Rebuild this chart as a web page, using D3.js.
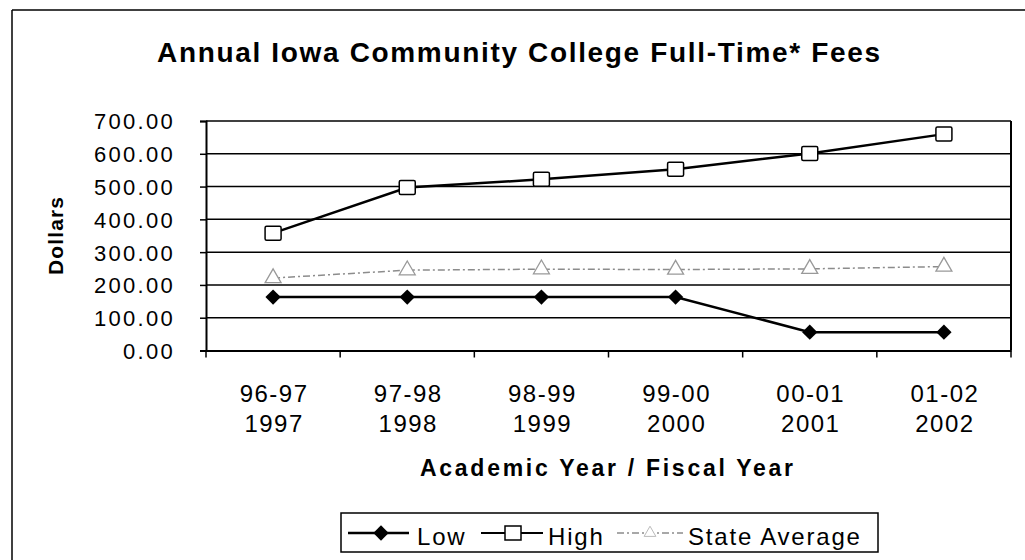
<!DOCTYPE html>
<html>
<head>
<meta charset="utf-8">
<script src="https://cdn.jsdelivr.net/npm/d3@7"></script>
<style>
  html, body { margin: 0; padding: 0; background: #fff; }
  svg { display: block; font-family: "Liberation Sans", Arial, sans-serif; }
</style>
</head>
<body>
<svg id="chart" width="1025" height="560"></svg>
<script>
// ---- data ----
const academicYears = ["96-97", "97-98", "98-99", "99-00", "00-01", "01-02"];
const fiscalYears   = ["1997", "1998", "1999", "2000", "2001", "2002"];
const lowFees   = [163, 163, 163, 163, 56, 56];
const highFees  = [358, 497, 522, 553, 601, 660];
const stateAvg  = [221, 245, 248, 247, 249, 256];
const yTicks    = [0, 100, 200, 300, 400, 500, 600, 700];
const seriesNames = ["Low", "High", "State Average"];

// ---- layout ----
const svg = d3.select("#chart");
const pLeft = 206, pRight = 1011, pTop = 121, pBottom = 350.5;

const x = d3.scaleBand().domain(academicYears).range([pLeft, pRight]);
const y = d3.scaleLinear().domain([0, 700]).range([pBottom, pTop]);
const cx = (d, i) => x(academicYears[i]) + x.bandwidth() / 2;

// outer frame (partial, as in scan)
svg.append("line").attr("x1", 12).attr("x2", 1025).attr("y1", 10).attr("y2", 10)
  .attr("stroke", "#000").attr("stroke-width", 1.5);
svg.append("line").attr("x1", 12).attr("x2", 12).attr("y1", 10).attr("y2", 560)
  .attr("stroke", "#000").attr("stroke-width", 1.5);

// title
svg.append("text").attr("x", 157).attr("y", 62)
  .attr("font-size", 28).attr("font-weight", "bold")
  .attr("textLength", 723).attr("lengthAdjust", "spacing")
  .text("Annual Iowa Community College Full-Time* Fees");

// gridlines
svg.append("g").selectAll("line").data(yTicks.filter(d => d > 0)).join("line")
  .attr("x1", pLeft).attr("x2", pRight)
  .attr("y1", d => y(d)).attr("y2", d => y(d))
  .attr("stroke", "#000").attr("stroke-width", 1.5);

// right border
svg.append("line").attr("x1", pRight).attr("x2", pRight).attr("y1", pTop).attr("y2", pBottom)
  .attr("stroke", "#000").attr("stroke-width", 2);

// y axis
const yAxis = svg.append("g").attr("transform", `translate(${pLeft},0)`)
  .call(d3.axisLeft(y).tickValues(yTicks).tickFormat(d3.format(".2f")).tickSize(6).tickPadding(25));
yAxis.select(".domain").attr("stroke-width", 2);
yAxis.selectAll(".tick line").attr("stroke-width", 1.5);
yAxis.selectAll("text").attr("font-size", 22).attr("fill", "#000")
  .attr("font-family", "Liberation Sans, Arial, sans-serif")
  .style("letter-spacing", "2.3px").attr("dy", "0.36em");

// x axis
const xAxis = svg.append("g").attr("transform", `translate(0,${pBottom})`)
  .call(d3.axisBottom(x).tickValues([]).tickSizeOuter(0));
xAxis.select(".domain").attr("stroke-width", 2);
svg.append("g").selectAll("line").data(d3.range(academicYears.length + 1)).join("line")
  .attr("x1", i => pLeft + i * x.step()).attr("x2", i => pLeft + i * x.step())
  .attr("y1", pBottom).attr("y2", pBottom + 7)
  .attr("stroke", "#000").attr("stroke-width", 1.5);

const xl = svg.append("g").attr("font-size", 24).attr("text-anchor", "middle")
  .style("letter-spacing", "1.5px");
xl.selectAll("text.ay").data(academicYears).join("text").attr("class", "ay")
  .attr("x", (d, i) => cx(d, i) + 1).attr("y", 402).text(d => d);
xl.selectAll("text.fy").data(fiscalYears).join("text").attr("class", "fy")
  .attr("x", (d, i) => cx(d, i) + 1).attr("y", 432).text(d => d);

// axis titles
svg.append("text").attr("x", 420).attr("y", 476)
  .attr("font-size", 23).attr("font-weight", "bold")
  .attr("textLength", 373).attr("lengthAdjust", "spacing")
  .text("Academic Year / Fiscal Year");
svg.append("text").attr("transform", "translate(63,275) rotate(-90)")
  .attr("font-size", 21).attr("font-weight", "bold")
  .attr("textLength", 78).attr("lengthAdjust", "spacing")
  .text("Dollars");

// series
const line = d3.line().x((d, i) => cx(d, i)).y(d => y(d));

// State average (faint dashed)
svg.append("path").datum(stateAvg).attr("d", line)
  .attr("fill", "none").attr("stroke", "#8c8c8c").attr("stroke-width", 1.5)
  .attr("stroke-dasharray", "7,3,2,3");
const tri = d3.symbol().type(d3.symbolTriangle).size(110);
svg.append("g").selectAll("path").data(stateAvg).join("path")
  .attr("transform", (d, i) => `translate(${cx(d, i)},${y(d)})`)
  .attr("d", tri).attr("fill", "#fff").attr("stroke", "#999").attr("stroke-width", 1.3);

// High
svg.append("path").datum(highFees).attr("d", line)
  .attr("fill", "none").attr("stroke", "#000").attr("stroke-width", 2.5);
svg.append("g").selectAll("rect").data(highFees).join("rect")
  .attr("x", (d, i) => cx(d, i) - 8).attr("y", d => y(d) - 7)
  .attr("width", 16).attr("height", 14).attr("rx", 1.5)
  .attr("fill", "#fff").attr("stroke", "#000").attr("stroke-width", 1.5);

// Low
svg.append("path").datum(lowFees).attr("d", line)
  .attr("fill", "none").attr("stroke", "#000").attr("stroke-width", 2.5);
const dia = d3.symbol().type(d3.symbolDiamond2).size(150);
svg.append("g").selectAll("path").data(lowFees).join("path")
  .attr("transform", (d, i) => `translate(${cx(d, i)},${y(d)})`)
  .attr("d", dia).attr("fill", "#000");

// legend
const lg = svg.append("g");
lg.append("rect").attr("x", 341).attr("y", 513).attr("width", 537).attr("height", 39)
  .attr("fill", "#fff").attr("stroke", "#000").attr("stroke-width", 1.5);
const ly = 533;
// Low
lg.append("line").attr("x1", 348).attr("x2", 409).attr("y1", ly).attr("y2", ly)
  .attr("stroke", "#000").attr("stroke-width", 2.5);
lg.append("path").attr("transform", `translate(381,${ly})`).attr("d", dia).attr("fill", "#000");
// High
lg.append("line").attr("x1", 481).attr("x2", 543).attr("y1", ly).attr("y2", ly)
  .attr("stroke", "#000").attr("stroke-width", 2);
lg.append("rect").attr("x", 505).attr("y", ly - 7).attr("width", 16).attr("height", 14)
  .attr("fill", "#fff").attr("stroke", "#000").attr("stroke-width", 1.5);
// State Average
lg.append("line").attr("x1", 617).attr("x2", 683).attr("y1", ly).attr("y2", ly)
  .attr("stroke", "#8c8c8c").attr("stroke-width", 1.3).attr("stroke-dasharray", "7,3,2,3");
lg.append("path").attr("transform", `translate(650,${ly})`)
  .attr("d", d3.symbol().type(d3.symbolTriangle).size(60))
  .attr("fill", "#fff").attr("stroke", "#bbb").attr("stroke-width", 1);

const legendX = [417, 548, 688];
lg.selectAll("text").data(seriesNames).join("text")
  .attr("x", (d, i) => legendX[i]).attr("y", 545)
  .attr("font-size", 24).style("letter-spacing", "1.8px")
  .text(d => d);
</script>
</body>
</html>
